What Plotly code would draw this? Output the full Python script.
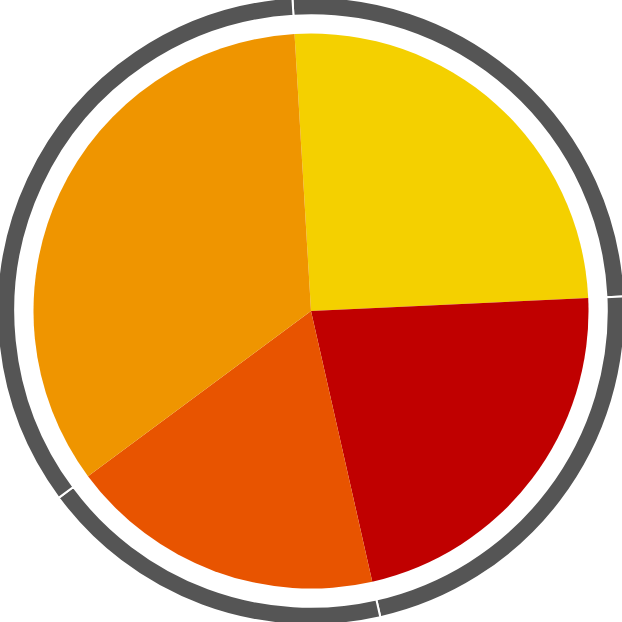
import plotly.graph_objects as go

# slice values, clockwise from just left of 12 o'clock
labels = ["A", "B", "C", "D"]
values = [25.2, 22.2, 18.4, 34.2]
slice_colors = ["#F4D000", "#C00000", "#E85400", "#EF9500"]
ring_colors = ["#555555"] * 4

fig = go.Figure()

# outer gray ring, split at the same angles as the pie
fig.add_trace(go.Pie(
    labels=labels, values=values,
    sort=False, direction="clockwise", rotation=-3.4,
    hole=0.942,
    marker=dict(colors=ring_colors, line=dict(color="white", width=2)),
    textinfo="none", hoverinfo="skip", showlegend=False,
    domain=dict(x=[0, 1], y=[0, 1]),
))

# the pie itself
fig.add_trace(go.Pie(
    labels=labels, values=values,
    sort=False, direction="clockwise", rotation=-3.4,
    marker=dict(colors=slice_colors, line=dict(width=0)),
    textinfo="none", hoverinfo="label+percent", showlegend=False,
    domain=dict(x=[0.0581, 0.9419], y=[0.0581, 0.9419]),
))

# slightly bigger than the window so the ring touches the frame
fig.update_layout(
    width=628, height=628,
    margin=dict(l=0, r=0, t=0, b=0),
    paper_bgcolor="white", plot_bgcolor="white",
)

fig.write_html("out.html", config={"displayModeBar": False},
               post_script="document.body.style.margin = '-3px 0 0 -3px';"
                           "document.body.style.overflow = 'hidden';")
